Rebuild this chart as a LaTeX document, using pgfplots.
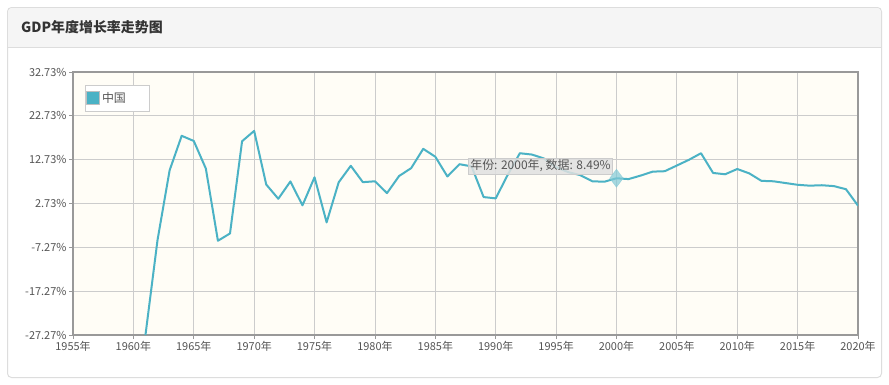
\documentclass[border=0pt]{standalone}
\usepackage{fontspec}
\setmainfont{Noto Sans CJK SC}
\usepackage{pgfplots}
\pgfplotsset{compat=1.18}
\definecolor{cline}{HTML}{4BB2C5}
\definecolor{cbg}{HTML}{FFFDF6}
\definecolor{chead}{HTML}{F5F5F5}
\definecolor{cborder}{HTML}{DDDDDD}
\definecolor{cgrid}{HTML}{CCCCCC}
\definecolor{caxis}{HTML}{999999}
\definecolor{ctick}{HTML}{555555}
\definecolor{ctitle}{HTML}{333333}
\begin{document}
\begin{tikzpicture}[x=1bp,y=1bp]
\useasboundingbox (0,0) rectangle (889,-384);
\fill[white] (0,0) rectangle (889,-384);
\draw[cborder, line width=1bp, fill=white, rounded corners=4bp] (7.5,-7.5) rectangle (881.5,-377.5);
\begin{scope}
\clip[rounded corners=4bp] (8,-8) rectangle (881,-377);
\fill[chead] (8,-8) rectangle (881,-47);
\end{scope}
\draw[cborder, line width=1bp] (8,-47.5) -- (881,-47.5);
\node[anchor=west, inner sep=0pt, font=\bfseries\fontsize{14}{16}\selectfont, text=ctitle] at (21,-27) {GDP年度增长率走势图};
\begin{axis}[
  at={(73bp,-335bp)}, anchor=south west,
  scale only axis, width=785bp, height=263bp,
  xmin=1955, xmax=2020, ymin=-27.27, ymax=32.73,
  xtick={1955,1960,1965,1970,1975,1980,1985,1990,1995,2000,2005,2010,2015,2020},
  xticklabels={1955年,1960年,1965年,1970年,1975年,1980年,1985年,1990年,1995年,2000年,2005年,2010年,2015年,2020年},
  ytick={-27.27,-17.27,-7.27,2.73,12.73,22.73,32.73},
  yticklabels={-27.27\%,-17.27\%,-7.27\%,2.73\%,12.73\%,22.73\%,32.73\%},
  xtick pos=left, ytick pos=left,
  tick align=outside, major tick length=4bp,
  tick style={color=caxis, line width=0.8bp},
  grid=major,
  major grid style={color=cgrid, line width=0.8bp},
  axis line style={color=caxis, line width=1.8bp},
  axis background/.style={fill=cbg},
  ticklabel style={font=\fontsize{11}{13}\selectfont, text=ctick},
  xticklabel style={yshift=1bp},
  yticklabel style={xshift=1bp},
  legend style={at={(0.0153,0.9506)}, anchor=north west, draw=cgrid, fill=white,
    inner xsep=1bp, inner ysep=5bp, font=\fontsize{12}{14}\selectfont, text=ctick},
  legend cell align=left,
  legend image code/.code={\draw[fill=cline, draw=black!25, line width=0.8bp] (-2bp,-6.5bp) rectangle (11bp,6.5bp);},
]
\addplot[cline, line width=2bp, line join=round] coordinates {
(1961,-27.27) (1962,-5.58) (1963,10.30) (1964,18.18) (1965,17.0) (1966,10.7)
(1967,-5.77) (1968,-4.10) (1969,16.94) (1970,19.30) (1971,7.06) (1972,3.81)
(1973,7.76) (1974,2.31) (1975,8.72) (1976,-1.57) (1977,7.57) (1978,11.33)
(1979,7.6) (1980,7.8) (1981,5.1) (1982,9.0) (1983,10.8) (1984,15.2)
(1985,13.4) (1986,8.9) (1987,11.7) (1988,11.2) (1989,4.2) (1990,3.9)
(1991,9.3) (1992,14.2) (1993,13.9) (1994,13.0) (1995,11.0) (1996,9.9)
(1997,9.2) (1998,7.8) (1999,7.7) (2000,8.49) (2001,8.3) (2002,9.1)
(2003,10.0) (2004,10.1) (2005,11.4) (2006,12.7) (2007,14.2) (2008,9.7)
(2009,9.4) (2010,10.6) (2011,9.6) (2012,7.9) (2013,7.8) (2014,7.4)
(2015,7.0) (2016,6.8) (2017,6.9) (2018,6.7) (2019,6.0) (2020,2.24)
};
\addlegendentry{\makebox[44bp][l]{中国}}
\addplot[only marks, mark=diamond*, mark size=9bp, mark options={fill=cline!70, draw=cline!70, fill opacity=0.7, draw opacity=0.7}, forget plot] coordinates {(2000,8.49)};
\node[anchor=east, draw=black!20, fill=black!12, fill opacity=0.85, text opacity=1, inner xsep=2bp, inner ysep=1.5bp, font=\fontsize{12}{14}\selectfont, text=ctick] at (axis cs:1999.7,11.28) {年份: 2000年, 数据: 8.49\%};
\end{axis}
\end{tikzpicture}
\end{document}
